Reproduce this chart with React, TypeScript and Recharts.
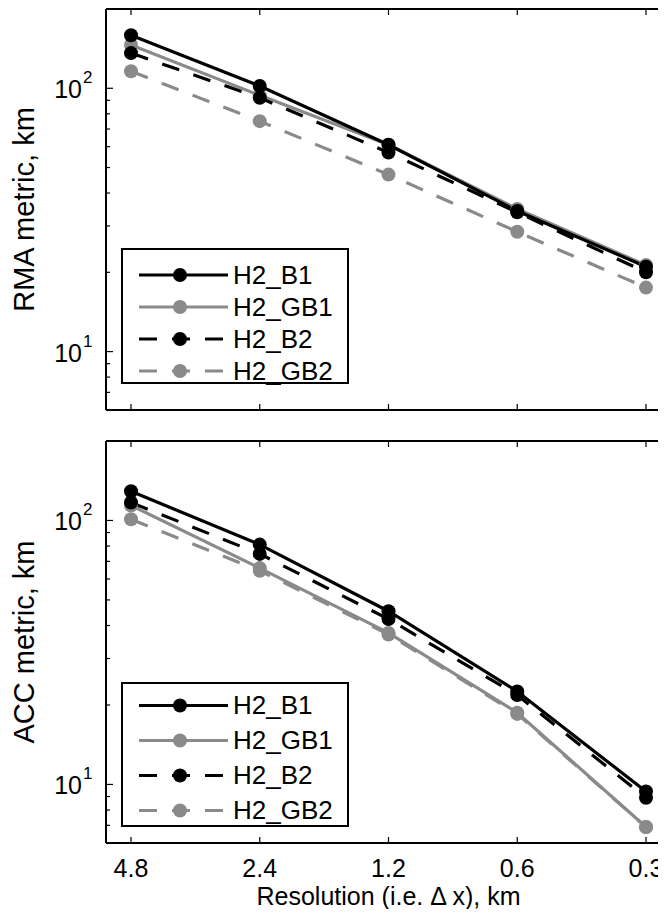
import { LineChart, Line, XAxis, YAxis, Legend } from "recharts";

// x categories (grid spacing, km)
const RESOLUTIONS = ["4.8", "2.4", "1.2", "0.6", "0.3"];

// RMA metric, km
const RMA_B1 = [159, 102, 61, 34.2, 21.0];
const RMA_GB1 = [146, 94, 61, 34.8, 21.3];
const RMA_B2 = [136, 92, 57, 33.8, 20.0];
const RMA_GB2 = [116, 75, 47, 28.5, 17.5];

// ACC metric, km
const ACC_B1 = [129, 81, 45.3, 22.5, 9.4];
const ACC_GB1 = [114, 66, 37.5, 18.7, 6.9];
const ACC_B2 = [117, 74.7, 42.3, 21.8, 8.9];
const ACC_GB2 = [101, 64.5, 37, 18.5, 6.9];

const SERIES_NAMES = ["H2_B1", "H2_GB1", "H2_B2", "H2_GB2"];
const Y_TICKS = [7, 8, 9, 10, 20, 30, 40, 50, 60, 70, 80, 90, 100, 200];
const Y_LABELED = [10, 100];
const Y_DOMAIN = [6, 200];

const STYLE: Record<string, { color: string; dash?: string }> = {
  H2_B1: { color: "#000000" },
  H2_GB1: { color: "#8a8a8a" },
  H2_B2: { color: "#000000", dash: "18 15" },
  H2_GB2: { color: "#8a8a8a", dash: "18 15" },
};
// gray ones first so the black ones sit on top
const DRAW_ORDER = ["H2_GB2", "H2_GB1", "H2_B2", "H2_B1"];

const FONT = "'Liberation Sans', Arial, Helvetica, sans-serif";

const makeRows = (b1: number[], gb1: number[], b2: number[], gb2: number[]) =>
  RESOLUTIONS.map((res, i) => ({
    res,
    H2_B1: b1[i],
    H2_GB1: gb1[i],
    H2_B2: b2[i],
    H2_GB2: gb2[i],
  }));

const rmaData = makeRows(RMA_B1, RMA_GB1, RMA_B2, RMA_GB2);
const accData = makeRows(ACC_B1, ACC_GB1, ACC_B2, ACC_GB2);

const AXIS = { stroke: "#000", strokeWidth: 2 };

function LeftTick(props: any) {
  const { x, y, payload } = props;
  const major = Y_LABELED.includes(payload.value);
  return (
    <g>
      <line x1={x} y1={y} x2={x + (major ? 7 : 4)} y2={y} stroke="#000" strokeWidth={1.2} />
      {major && (
        <>
          <text x={x - 24} y={y + 10} textAnchor="end" fontSize={25} fill="#000" fontFamily={FONT}>
            10
          </text>
          <text x={x - 23} y={y - 5} fontSize={17} fill="#000" fontFamily={FONT}>
            {Math.round(Math.log10(payload.value))}
          </text>
        </>
      )}
    </g>
  );
}

function RightTick(props: any) {
  const { x, y, payload } = props;
  const major = Y_LABELED.includes(payload.value);
  return <line x1={x} y1={y} x2={x - (major ? 7 : 4)} y2={y} stroke="#000" strokeWidth={1.2} />;
}

function TopTick(props: any) {
  const { x, y } = props;
  return <line x1={x} y1={y} x2={x} y2={y + 6} stroke="#000" strokeWidth={1.2} />;
}

function BottomTick(props: any) {
  const { x, y, payload, showLabel } = props;
  return (
    <g>
      <line x1={x} y1={y} x2={x} y2={y - 6} stroke="#000" strokeWidth={1.2} />
      {showLabel && (
        <text x={x} y={y + 34} textAnchor="middle" fontSize={25} fill="#000" fontFamily={FONT}>
          {payload.value}
        </text>
      )}
    </g>
  );
}

function LegendBox(props: any) {
  const { payload, rowH, padTop, boxH } = props;
  const items = SERIES_NAMES.map((n) => (payload || []).find((p: any) => p.value === n)).filter(Boolean);
  return (
    <div
      style={{
        width: 228,
        height: boxH,
        boxSizing: "border-box",
        border: "2px solid #000",
        background: "#fff",
        paddingTop: padTop,
        fontFamily: FONT,
      }}
    >
      {items.map((it: any) => {
        const st = STYLE[it.value];
        return (
          <div key={it.value} style={{ height: rowH, display: "flex", alignItems: "center" }}>
            <svg width={110} height={rowH} style={{ display: "block" }}>
              <line
                x1={16}
                x2={105}
                y1={rowH / 2}
                y2={rowH / 2}
                stroke={st.color}
                strokeWidth={3.2}
                strokeDasharray={st.dash}
              />
              <circle cx={57} cy={rowH / 2} r={7} fill={st.color} />
            </svg>
            <span style={{ fontSize: 26, color: "#000", lineHeight: 1 }}>{it.value}</span>
          </div>
        );
      })}
    </div>
  );
}

type PanelProps = {
  data: any[];
  yLabel: string;
  height: number;
  marginTop: number;
  bottomH: number;
  bottom: boolean;
  legendTop: number;
  rowH: number;
  padTop: number;
  boxH: number;
};

function Panel({ data, yLabel, height, marginTop, bottomH, bottom, legendTop, rowH, padTop, boxH }: PanelProps) {
  return (
    <LineChart width={680} height={height} data={data} margin={{ top: marginTop, right: 0, bottom: 0, left: 0 }}>
      <XAxis
        xAxisId="top"
        orientation="top"
        dataKey="res"
        height={1}
        padding={{ left: 25, right: 25 }}
        interval={0}
        tickSize={0}
        tickMargin={0}
        tickLine={false}
        axisLine={AXIS}
        tick={(p: any) => <TopTick {...p} />}
      />
      <XAxis
        xAxisId="bottom"
        dataKey="res"
        height={bottomH}
        padding={{ left: 25, right: 25 }}
        interval={0}
        tickSize={0}
        tickMargin={0}
        tickLine={false}
        axisLine={AXIS}
        tick={(p: any) => <BottomTick {...p} showLabel={bottom} />}
        label={
          bottom
            ? {
                value: "Resolution (i.e. \u0394 x), km",
                position: "insideBottom",
                offset: 4,
                style: { fontSize: 25, fill: "#000", fontFamily: FONT },
              }
            : undefined
        }
      />
      <YAxis
        yAxisId="left"
        type="number"
        scale="log"
        domain={Y_DOMAIN}
        allowDataOverflow
        ticks={Y_TICKS}
        interval={0}
        width={98}
        tickSize={0}
        tickMargin={0}
        tickLine={false}
        axisLine={AXIS}
        tick={(p: any) => <LeftTick {...p} />}
        label={{
          value: yLabel,
          angle: -90,
          position: "insideLeft",
          offset: 16,
          style: { textAnchor: "middle", fontSize: 29, fill: "#000", fontFamily: FONT },
        }}
      />
      <YAxis
        yAxisId="right"
        orientation="right"
        type="number"
        scale="log"
        domain={Y_DOMAIN}
        allowDataOverflow
        ticks={Y_TICKS}
        interval={0}
        width={17}
        tickSize={0}
        tickMargin={0}
        tickLine={false}
        axisLine={AXIS}
        tick={(p: any) => <RightTick {...p} />}
      />
      {DRAW_ORDER.map((name) => (
        <Line
          key={name}
          xAxisId="bottom"
          yAxisId="left"
          type="linear"
          dataKey={name}
          name={name}
          stroke={STYLE[name].color}
          strokeWidth={3.2}
          strokeDasharray={STYLE[name].dash}
          dot={{ r: 7, fill: STYLE[name].color, stroke: STYLE[name].color, strokeWidth: 0 }}
          activeDot={false}
          isAnimationActive={false}
        />
      ))}
      <Legend
        layout="vertical"
        align="center"
        verticalAlign="middle"
        wrapperStyle={{ left: 113, top: legendTop, width: 228 }}
        content={(p: any) => <LegendBox {...p} rowH={rowH} padTop={padTop} boxH={boxH} />}
      />
    </LineChart>
  );
}

export default function App() {
  return (
    <div style={{ width: 658, height: 901, overflow: "hidden", fontFamily: FONT, background: "#fff" }}>
      <Panel
        data={rmaData}
        yLabel="RMA metric, km"
        height={406}
        marginTop={0}
        bottomH={4}
        bottom={false}
        legendTop={240}
        rowH={32}
        padTop={8.5}
        boxH={136}
      />
      <Panel
        data={accData}
        yLabel="ACC metric, km"
        height={495}
        marginTop={26}
        bottomH={66}
        bottom={true}
        legendTop={268}
        rowH={35}
        padTop={3.5}
        boxH={145}
      />
    </div>
  );
}
